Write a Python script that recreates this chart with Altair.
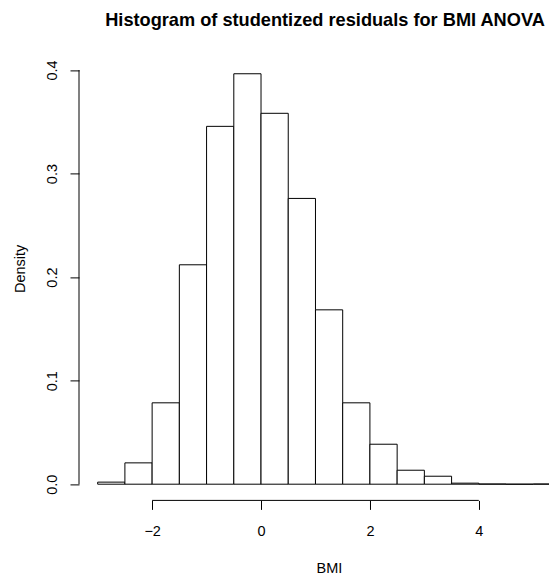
import altair as alt
import pandas as pd

bin_lo = [-3.0, -2.5, -2.0, -1.5, -1.0, -0.5, 0.0, 0.5, 1.0, 1.5, 2.0, 2.5, 3.0, 3.5, 4.0, 4.5, 5.0]
bin_hi = [-2.5, -2.0, -1.5, -1.0, -0.5, 0.0, 0.5, 1.0, 1.5, 2.0, 2.5, 3.0, 3.5, 4.0, 4.5, 5.0, 5.5]
density = [0.002, 0.0206, 0.0786, 0.2119, 0.3456, 0.3964, 0.3582, 0.2760, 0.1684,
           0.0786, 0.0386, 0.0135, 0.0077, 0.0010, 0.0002, 0.0, 0.0002]
x_ticks = [-2, 0, 2, 4]
y_ticks = [0.0, 0.1, 0.2, 0.3, 0.4]

FONT = "Liberation Sans"
W, H = 470, 443

df = pd.DataFrame({"lo": bin_lo, "hi": bin_hi, "density": density})

xscale = alt.Scale(domain=[-3.343, 5.289], nice=False, zero=False)
yscale = alt.Scale(domain=[-0.01564, 0.4122], nice=False, zero=False)

bars = alt.Chart(df).mark_rect(fill="white", stroke="black", strokeWidth=1, clip=True).encode(
    x=alt.X("lo:Q", scale=xscale, axis=alt.Axis(
        values=x_ticks, domain=False, grid=False, ticks=True, tickSize=9, tickColor="black",
        labelFont=FONT, labelFontSize=14.5, labelColor="black", labelPadding=15, labelFlush=False,
        title="BMI", titleFont=FONT, titleFontSize=14.5, titleFontWeight="normal", titleColor="black",
        titleX=250, titleY=68, titleBaseline="middle", titleAlign="center")),
    x2="hi:Q",
    y=alt.Y("density:Q", scale=yscale, axis=alt.Axis(
        values=y_ticks, format=".1f", domain=False, grid=False, tickSize=9, tickColor="black",
        labelFont=FONT, labelFontSize=14.5, labelColor="black", labelAngle=270,
        labelAlign="center", labelBaseline="bottom", labelPadding=11,
        title="Density", titleFont=FONT, titleFontSize=14.5, titleFontWeight="normal",
        titleColor="black", titleAngle=270, titleX=-59, titleY=211, titleBaseline="middle",
        titleAlign="center")),
    y2=alt.datum(0),
)

xline = alt.Chart(pd.DataFrame({"a": [min(x_ticks)], "b": [max(x_ticks)]})).mark_rule(
    color="black", strokeWidth=1).encode(
    x=alt.X("a:Q", scale=xscale), x2="b:Q", y=alt.value(H))

yline = alt.Chart(pd.DataFrame({"a": [min(y_ticks)], "b": [max(y_ticks)]})).mark_rule(
    color="black", strokeWidth=1).encode(
    y=alt.Y("a:Q", scale=yscale), y2="b:Q", x=alt.value(0))

chart = alt.layer(bars, xline, yline).properties(
    width=W, height=H,
    title=alt.TitleParams("Histogram of studentized residuals for BMI ANOVA", font=FONT,
                          fontSize=18.2, fontWeight="bold", color="black", anchor="middle",
                          dx=11, offset=13, baseline="alphabetic"),
    autosize=alt.AutoSizeParams(type="none"),
    padding={"left": 71, "top": 49.4, "right": 0, "bottom": 80},
).configure(background="white").configure_view(strokeWidth=0, stroke="transparent")

chart.save("out.html", embed_options={"renderer": "svg", "actions": False})
